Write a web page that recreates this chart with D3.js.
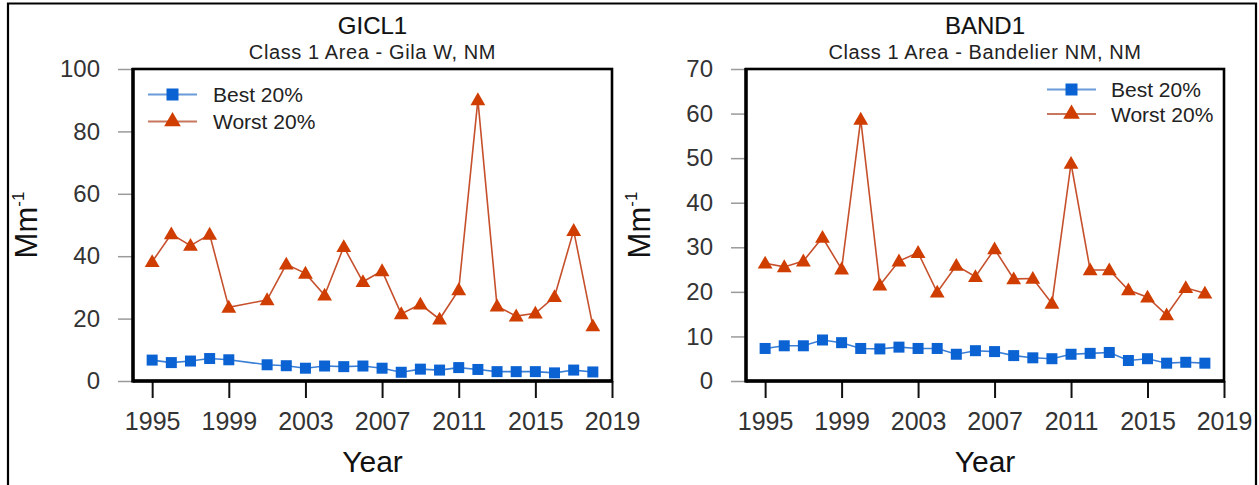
<!DOCTYPE html>
<html>
<head>
<meta charset="utf-8">
<script src="https://cdn.jsdelivr.net/npm/d3@7"></script>
<style>
  html, body { margin: 0; padding: 0; background: #fff; }
  svg { display: block; font-family: "Liberation Sans", Arial, sans-serif; }
</style>
</head>
<body>
<svg id="chart" width="1259" height="485"></svg>
<script>
// ---- Data ----
const xTickYears = [1995, 1999, 2003, 2007, 2011, 2015, 2019];
const seriesNames = ["Best 20%", "Worst 20%"];

// GICL1 (no 2000 sample)
const gilaYears = [1995,1996,1997,1998,1999,2001,2002,2003,2004,2005,2006,2007,2008,2009,2010,2011,2012,2013,2014,2015,2016,2017,2018];
const gilaBest  = [6.7,5.9,6.4,7.2,6.8,5.2,4.9,4.1,4.8,4.6,4.8,4.1,2.8,3.8,3.5,4.3,3.7,3.0,3.0,3.0,2.6,3.5,2.9];
const gilaWorst = [38.2,47.1,43.4,47.0,23.6,26.0,37.4,34.5,27.5,43.0,31.8,35.3,21.5,24.6,19.8,29.2,90.1,24.0,20.8,21.7,27.0,48.2,17.6];
const gilaYTicks = [0,20,40,60,80,100];

// BAND1
const bandYears = [1995,1996,1997,1998,1999,2000,2001,2002,2003,2004,2005,2006,2007,2008,2009,2010,2011,2012,2013,2014,2015,2016,2017,2018];
const bandBest  = [7.3,7.9,7.9,9.2,8.6,7.3,7.2,7.6,7.3,7.3,6.0,6.8,6.6,5.7,5.2,5.0,6.0,6.2,6.4,4.6,5.0,4.0,4.2,4.0];
const bandWorst = [26.4,25.6,26.9,32.2,25.1,58.7,21.5,26.9,28.8,19.9,25.9,23.4,29.6,22.9,23.0,17.4,48.8,24.9,24.9,20.4,18.8,14.8,20.9,19.7];
const bandYTicks = [0,10,20,30,40,50,60,70];

const panels = [
  { title: "GICL1", subtitle: "Class 1 Area - Gila W, NM", years: gilaYears, best: gilaBest, worst: gilaWorst,
    yTicks: gilaYTicks, yMax: 100, x0: 133, x1: 612, legend: { x: 148, y: 94.5, dy: 27, tx: 213 } },
  { title: "BAND1", subtitle: "Class 1 Area - Bandelier NM, NM", years: bandYears, best: bandBest, worst: bandWorst,
    yTicks: bandYTicks, yMax: 70, x0: 746, x1: 1224, legend: { x: 1047, y: 89.5, dy: 24.5, tx: 1111 } }
];

const blueLine = "#3a7fd6", blueMark = "#0b62d2";
const redLine = "#c6502c", redMark = "#cf3e00";
const legendBlueLine = "#6a9ad8", legendRedLine = "#c8775f";

const svg = d3.select("#chart");

// outer frame
svg.append("path")
  .attr("d", "M8,490 L8,3.5 L1256,3.5 L1256,490")
  .attr("fill", "none").attr("stroke", "#000").attr("stroke-width", 2.2);

const yTop = 69, yBot = 381;
const triangle = d3.symbol().type(d3.symbolTriangle).size(95);

panels.forEach(p => {
  const x = d3.scaleLinear().domain([1994, 2019]).range([p.x0, p.x1]);
  const y = d3.scaleLinear().domain([0, p.yMax]).range([yBot, yTop]);
  const g = svg.append("g");
  const cx = (p.x0 + p.x1) / 2;

  // titles
  g.append("text").attr("x", cx).attr("y", 34).attr("text-anchor", "middle")
    .attr("font-size", 24).attr("fill", "#111").attr("stroke", "#111").attr("stroke-width", 0.15).text(p.title);
  g.append("text").attr("x", cx).attr("y", 59).attr("text-anchor", "middle")
    .attr("font-size", 20).attr("letter-spacing", 0.6).attr("fill", "#222").text(p.subtitle);

  // y axis (gray ticks outward)
  const yAxis = d3.axisLeft(y).tickValues(p.yTicks).tickSize(15).tickPadding(18).tickFormat(d3.format("d"));
  const ya = g.append("g").attr("transform", `translate(${p.x0},0)`).call(yAxis);
  ya.select(".domain").remove();
  ya.selectAll(".tick line").attr("stroke", "#9a9a9a").attr("stroke-width", 1.5);
  ya.selectAll(".tick text").attr("font-size", 24).attr("fill", "#333")
    .attr("font-family", "'Liberation Sans', Arial, sans-serif");

  // x axis (black ticks outward)
  const xAxis = d3.axisBottom(x).tickValues(xTickYears).tickSize(17).tickPadding(14).tickFormat(d3.format("d"));
  const xa = g.append("g").attr("transform", `translate(0,${yBot})`).call(xAxis);
  xa.select(".domain").remove();
  xa.selectAll(".tick line").attr("stroke", "#111").attr("stroke-width", 2);
  xa.selectAll(".tick text").attr("font-size", 25).attr("fill", "#333")
    .attr("font-family", "'Liberation Sans', Arial, sans-serif");

  // plot box
  g.append("rect").attr("x", p.x0).attr("y", yTop).attr("width", p.x1 - p.x0).attr("height", yBot - yTop)
    .attr("fill", "none").attr("stroke", "#000").attr("stroke-width", 2.6);
  g.append("line").attr("x1", p.x0).attr("x2", p.x0).attr("y1", yTop - 1).attr("y2", yBot + 1.5)
    .attr("stroke", "#000").attr("stroke-width", 3.4);
  g.append("line").attr("x1", p.x0).attr("x2", p.x1 + 1).attr("y1", yBot).attr("y2", yBot)
    .attr("stroke", "#000").attr("stroke-width", 3.4);

  // axis titles
  g.append("text").attr("x", cx).attr("y", 472).attr("text-anchor", "middle")
    .attr("font-size", 30).attr("fill", "#111").text("Year");
  const yl = g.append("text")
    .attr("transform", `translate(${p.x0 - 96},${(yTop + yBot) / 2}) rotate(-90)`)
    .attr("text-anchor", "middle").attr("font-size", 31).attr("fill", "#111");
  yl.append("tspan").text("Mm");
  yl.append("tspan").attr("font-size", 17).attr("dy", -13).text("-1");

  // series
  const best = p.years.map((yr, i) => ({ yr, v: p.best[i] }));
  const worst = p.years.map((yr, i) => ({ yr, v: p.worst[i] }));
  const line = d3.line().x(d => x(d.yr)).y(d => y(d.v));

  g.append("path").datum(best).attr("d", line).attr("fill", "none")
    .attr("stroke", blueLine).attr("stroke-width", 1.6);
  g.append("path").datum(worst).attr("d", line).attr("fill", "none")
    .attr("stroke", redLine).attr("stroke-width", 1.6);

  g.selectAll(".sq").data(best).join("rect").attr("class", "sq")
    .attr("x", d => x(d.yr) - 5.5).attr("y", d => y(d.v) - 5.5)
    .attr("width", 11).attr("height", 11).attr("fill", blueMark);
  g.selectAll(".tri").data(worst).join("path").attr("class", "tri")
    .attr("transform", d => `translate(${x(d.yr)},${y(d.v) + 1})`)
    .attr("d", triangle).attr("fill", redMark);

  // legend
  const L = p.legend;
  const lg = g.append("g");
  [[seriesNames[0], legendBlueLine, blueMark, "sq"], [seriesNames[1], legendRedLine, redMark, "tri"]].forEach((s, i) => {
    const ly = L.y + i * L.dy;
    lg.append("line").attr("x1", L.x).attr("x2", L.x + 49).attr("y1", ly).attr("y2", ly)
      .attr("stroke", s[1]).attr("stroke-width", 1.8);
    if (s[3] === "sq") {
      lg.append("rect").attr("x", L.x + 24.5 - 6).attr("y", ly - 6).attr("width", 12).attr("height", 12).attr("fill", s[2]);
    } else {
      lg.append("path").attr("transform", `translate(${L.x + 24.5},${ly})`).attr("d", d3.symbol().type(d3.symbolTriangle).size(120)).attr("fill", s[2]);
    }
    lg.append("text").attr("x", L.tx).attr("y", ly + 7.5).attr("font-size", 21).attr("fill", "#222").text(s[0]);
  });
});
</script>
</body>
</html>
